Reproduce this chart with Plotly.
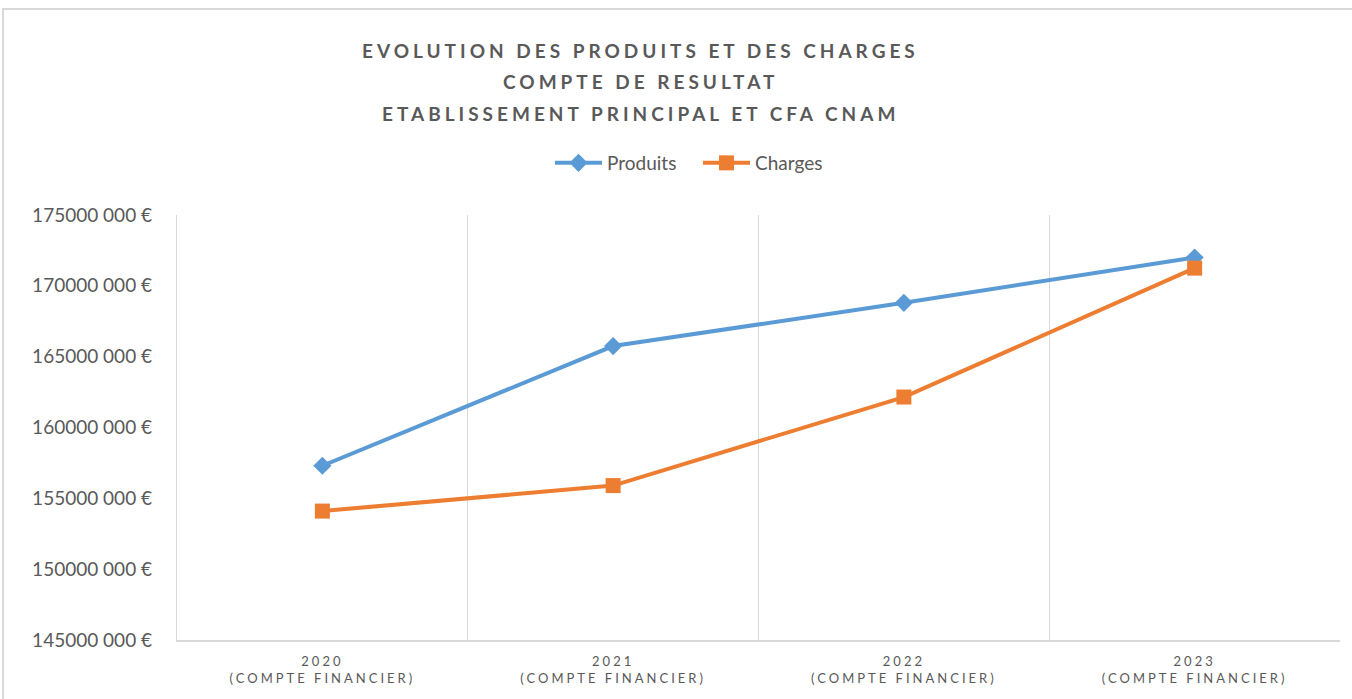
import plotly.graph_objects as go

years = ["2020", "2021", "2022", "2023"]
subtitle = "(COMPTE FINANCIER)"
produits = [157.3e6, 165.75e6, 168.8e6, 172.0e6]
charges = [154.1e6, 155.9e6, 162.15e6, 171.25e6]
y_ticks = [145e6, 150e6, 155e6, 160e6, 165e6, 170e6, 175e6]
y_labels = ["145000 000 €", "150000 000 €", "155000 000 €", "160000 000 €",
            "165000 000 €", "170000 000 €", "175000 000 €"]
title_lines = ["EVOLUTION DES PRODUITS ET DES CHARGES", "COMPTE DE RESULTAT",
               "ETABLISSEMENT PRINCIPAL ET CFA CNAM"]

W, H = 1352, 699
L, R, T, B = 177, 12, 215, 59
PW, PH = W - L - R, H - T - B

def px(x):
    return (x - L) / PW

def py(y):
    return (H - B - y) / PH

GRAY = "#595959"
FONT = "Lato, 'Open Sans', sans-serif"

ticktext = [f"<span style='letter-spacing:3px'>{y}<br>{subtitle}</span>" for y in years]

fig = go.Figure()
fig.add_trace(go.Scatter(x=years, y=produits, name="Produits", mode="lines+markers",
                         line=dict(color="#5B9BD5", width=4),
                         marker=dict(symbol="diamond", size=14, color="#5B9BD5")))
fig.add_trace(go.Scatter(x=years, y=charges, name="Charges", mode="lines+markers",
                         line=dict(color="#ED7D31", width=4),
                         marker=dict(symbol="square", size=15, color="#ED7D31")))

annotations = []
for t, yy in zip(title_lines, [50, 81, 113]):
    annotations.append(dict(text=f"<span style='letter-spacing:4px'><b>{t}</b></span>",
                            x=px(640), y=py(yy), xref="paper", yref="paper",
                            xanchor="center", yanchor="middle", showarrow=False,
                            font=dict(family=FONT, size=19, color=GRAY)))

fig.update_layout(
    width=W, height=H,
    margin=dict(l=L, r=R, t=T, b=B),
    paper_bgcolor="white", plot_bgcolor="white",
    showlegend=True,
    legend=dict(orientation="h", x=px(550), y=py(163), xanchor="left", yanchor="middle",
                entrywidth=86, entrywidthmode="pixels", itemwidth=47,
                font=dict(family=FONT, size=19, color=GRAY),
                bgcolor="rgba(0,0,0,0)"),
    annotations=annotations,
    shapes=[dict(type="rect", xref="paper", yref="paper",
                 x0=px(3), x1=px(1365), y0=py(712), y1=py(9),
                 line=dict(color="#d9d9d9", width=2), layer="below")],
    xaxis=dict(type="category", range=[-0.5, 3.5], tickmode="array", tickvals=years,
               ticktext=ticktext, tickson="boundaries",
               showgrid=True, gridcolor="#d9d9d9", gridwidth=1.3,
               showline=True, linecolor="#d9d9d9", linewidth=2,
               ticks="", zeroline=False, fixedrange=True, ticklabelstandoff=8,
               tickfont=dict(family=FONT, size=13, color=GRAY)),
    yaxis=dict(range=[145e6, 175e6], tickmode="array", tickvals=y_ticks, ticktext=y_labels,
               showgrid=False, zeroline=False, showline=True, linecolor="#d9d9d9", linewidth=1.3,
               ticks="", ticklabelstandoff=20,
               tickfont=dict(family=FONT, size=19, color=GRAY)),
)

fig.write_html("out.html", post_script="document.body.style.margin='0';",
               config={"displayModeBar": False})
